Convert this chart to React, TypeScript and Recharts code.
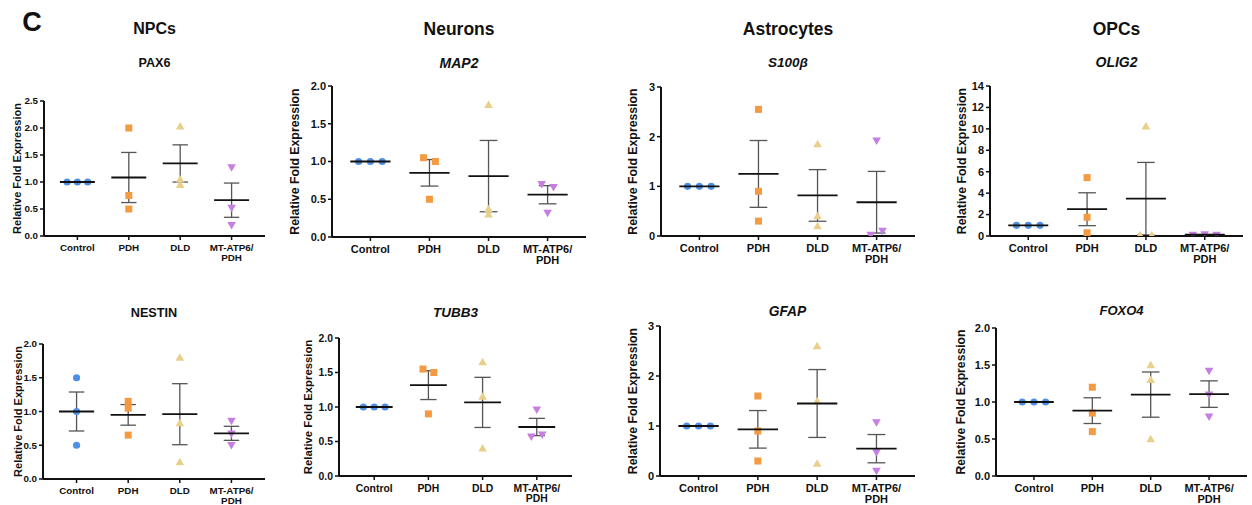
import React from 'react';
import { ScatterChart, Scatter, XAxis, YAxis, ErrorBar } from 'recharts';

const groupNames = ['Control', 'PDH', 'DLD', 'MT-ATP6/\nPDH'];
const groupColors = ['#4f8fe6', '#f39a42', '#e8cf8a', '#c67ee0'];

// replicate values per group: Control, PDH, DLD, MT-ATP6/PDH
const pax6 = [[1, 1, 1], [2.0, 0.75, 0.5], [2.03, 1.05, 0.95], [1.27, 0.52, 0.2]];
const map2 = [[1, 1, 1], [1.05, 1.0, 0.5], [1.75, 0.37, 0.3], [0.7, 0.66, 0.32]];
const s100b = [[1, 1, 1], [2.55, 0.9, 0.3], [1.85, 0.4, 0.2], [1.92, 0.02, 0.1]];
const olig2 = [[1, 1, 1], [5.45, 1.75, 0.3], [10.25, 0.1, 0.1], [0.1, 0.15, 0.1]];
const nestin = [[1.5, 1.0, 0.5], [1.15, 1.05, 0.65], [1.8, 0.83, 0.25], [0.86, 0.67, 0.5]];
const tubb3 = [[1, 1, 1], [1.55, 1.5, 0.9], [1.65, 1.15, 0.4], [0.96, 0.57, 0.6]];
const gfap = [[1, 1, 1], [1.6, 0.9, 0.3], [2.6, 1.5, 0.25], [1.07, 0.47, 0.1]];
const foxo4 = [[1, 1, 1], [1.2, 0.85, 0.6], [1.5, 1.3, 0.5], [1.42, 1.1, 0.8]];

const ticksHalf2 = [0, 0.5, 1, 1.5, 2];
const ticksHalf25 = [0, 0.5, 1, 1.5, 2, 2.5];
const ticksInt3 = [0, 1, 2, 3];
const ticksEven14 = [0, 2, 4, 6, 8, 10, 12, 14];

const cellTypes = ['NPCs', 'Neurons', 'Astrocytes', 'OPCs'];

const panels = [
  { gene: 'PAX6', italic: false, values: pax6, ticks: ticksHalf25, dec: 1 },
  { gene: 'MAP2', italic: true, values: map2, ticks: ticksHalf2, dec: 1 },
  { gene: 'S100β', italic: true, values: s100b, ticks: ticksInt3, dec: 0 },
  { gene: 'OLIG2', italic: true, values: olig2, ticks: ticksEven14, dec: 0 },
  { gene: 'NESTIN', italic: false, values: nestin, ticks: ticksHalf2, dec: 1 },
  { gene: 'TUBB3', italic: true, values: tubb3, ticks: ticksHalf2, dec: 1 },
  { gene: 'GFAP', italic: true, values: gfap, ticks: ticksInt3, dec: 0 },
  { gene: 'FOXO4', italic: true, values: foxo4, ticks: ticksHalf2, dec: 1 },
];

// page geometry of each panel (axis origin, extents, title row, font sizes)
const layouts = [
  { axisX: 44, xRight: 265, top: 101, bottom: 236, labelGap: 27, fs: 9.8, lfs: 11, titleY: 63, tfs: 12.6 },
  { axisX: 332, xRight: 586, top: 86, bottom: 237, labelGap: 37, fs: 11, lfs: 12.3, titleY: 63, tfs: 14 },
  { axisX: 661, xRight: 915, top: 87, bottom: 236, labelGap: 28, fs: 11, lfs: 12.3, titleY: 62, tfs: 13.5 },
  { axisX: 990, xRight: 1243, top: 86, bottom: 236, labelGap: 28, fs: 11, lfs: 12.3, titleY: 62, tfs: 14 },
  { axisX: 43, xRight: 265, top: 344, bottom: 479, labelGap: 25, fs: 9.8, lfs: 11, titleY: 313, tfs: 12.7 },
  { axisX: 339, xRight: 572, top: 338, bottom: 476, labelGap: 31, fs: 10.4, lfs: 11.3, titleY: 312, tfs: 13.5 },
  { axisX: 660, xRight: 915, top: 326, bottom: 476, labelGap: 27, fs: 11, lfs: 12.3, titleY: 311, tfs: 13.8 },
  { axisX: 996, xRight: 1247, top: 328, bottom: 476, labelGap: 35, fs: 11, lfs: 12.2, titleY: 310, tfs: 13 },
];

const FONT = 'Arial, "Liberation Sans", Helvetica, sans-serif';
const X_DOMAIN: [number, number] = [-0.65, 3.65];

function spread(vals: number[], max: number) {
  const off = vals.map(() => 0);
  const used = vals.map(() => false);
  vals.forEach((v, i) => {
    if (used[i]) return;
    const cl = vals.map((_, j) => j).filter((j) => !used[j] && Math.abs(vals[j] - v) < 0.03 * max);
    cl.forEach((j, k) => {
      used[j] = true;
      off[j] = (k - (cl.length - 1) / 2) * 0.2;
    });
  });
  return off;
}

const markerShape = (kind: number, color: string) => (p: any) => {
  const { cx, cy } = p;
  if (cx == null || cy == null) return <g />;
  if (kind === 0) return <circle cx={cx} cy={cy} r={3.6} fill={color} />;
  if (kind === 1) return <rect x={cx - 3.5} y={cy - 3.5} width={7} height={7} fill={color} />;
  if (kind === 2) return <path d={`M${cx},${cy - 4.3}L${cx + 4.3},${cy + 3.2}L${cx - 4.3},${cy + 3.2}Z`} fill={color} />;
  return <path d={`M${cx},${cy + 4.3}L${cx + 4.3},${cy - 3.2}L${cx - 4.3},${cy - 3.2}Z`} fill={color} />;
};

function CatTick(props: any) {
  const { x, y, payload, fs } = props;
  const lines = (groupNames[payload.value] || '').split('\n');
  return (
    <text x={x} y={y} textAnchor="middle" fontSize={fs} fontWeight={700} fontFamily={FONT} fill="#111">
      {lines.map((l: string, i: number) => (
        <tspan key={i} x={x} dy={i === 0 ? fs * 0.95 : fs * 1.0}>{l}</tspan>
      ))}
    </text>
  );
}

function Panel({ idx }: { idx: number }) {
  const pd = panels[idx];
  const lo = layouts[idx];
  const yMax = pd.ticks[pd.ticks.length - 1];
  const yAxisW = 46;
  const mTop = 6;
  const xAxisH = 36;
  const chartLeft = lo.axisX - yAxisW;
  const width = lo.xRight + 6 - chartLeft;
  const height = lo.bottom - lo.top + mTop + xAxisH;
  const spacing = (lo.xRight - lo.axisX) / (X_DOMAIN[1] - X_DOMAIN[0]);

  const means = pd.values.map((vals, g) => {
    const m = vals.reduce((a, b) => a + b, 0) / vals.length;
    const sd = Math.sqrt(vals.reduce((a, b) => a + (b - m) * (b - m), 0) / (vals.length - 1));
    return { x: g, y: m, sem: sd / Math.sqrt(vals.length) };
  });

  const meanHw = spacing * 0.34;
  const meanShape = (p: any) => {
    const { cx, cy } = p;
    if (cx == null || cy == null) return <g />;
    return <line x1={cx - meanHw} x2={cx + meanHw} y1={cy} y2={cy} stroke="#111" strokeWidth={1.8} />;
  };

  return (
    <div style={{ position: 'absolute', left: chartLeft, top: lo.top - mTop }}>
      <ScatterChart width={width} height={height} margin={{ top: mTop, right: 6, bottom: 0, left: 0 }}>
        <XAxis
          type="number"
          dataKey="x"
          domain={X_DOMAIN}
          ticks={[0, 1, 2, 3]}
          allowDataOverflow
          height={xAxisH}
          tickSize={4}
          tickMargin={2}
          axisLine={{ stroke: '#111', strokeWidth: 2 }}
          tickLine={{ stroke: '#111', strokeWidth: 1.5 }}
          tick={<CatTick fs={lo.fs} />}
        />
        <YAxis
          type="number"
          dataKey="y"
          domain={[0, yMax]}
          ticks={pd.ticks}
          allowDataOverflow
          width={yAxisW}
          tickSize={4}
          tickMargin={2}
          axisLine={{ stroke: '#111', strokeWidth: 2 }}
          tickLine={{ stroke: '#111', strokeWidth: 1.5 }}
          tickFormatter={(v: number) => v.toFixed(pd.dec)}
          tick={{ fontSize: lo.fs, fontWeight: 700, fill: '#111', fontFamily: FONT }}
          label={{
            value: 'Relative Fold Expression',
            angle: -90,
            position: 'insideLeft',
            offset: yAxisW - lo.labelGap,
            style: { textAnchor: 'middle', fontSize: lo.lfs, fontWeight: 700, fill: '#111', fontFamily: FONT },
          }}
        />
        {pd.values.map((vals, g) => {
          const off = spread(vals, yMax);
          const pts = vals.map((v, k) => ({ x: g + off[k], y: v }));
          return (
            <Scatter
              key={g}
              data={pts}
              shape={markerShape(g, groupColors[g])}
              isAnimationActive={false}
            />
          );
        })}
        <Scatter data={means} shape={meanShape} isAnimationActive={false}>
          <ErrorBar
            dataKey="sem"
            direction="y"
            width={spacing * 0.15}
            stroke="#555"
            strokeWidth={1.3}
            isAnimationActive={false}
          />
        </Scatter>
      </ScatterChart>
    </div>
  );
}

export default function App() {
  return (
    <div
      style={{
        position: 'relative',
        width: 1252,
        height: 505,
        overflow: 'hidden',
        background: '#fff',
        fontFamily: FONT,
        color: '#111',
      }}
    >
      <style>{'body{margin:0}'}</style>
      <div
        style={{
          position: 'absolute',
          left: 32,
          top: 22,
          transform: 'translate(-50%, -50%)',
          fontSize: 27,
          fontWeight: 700,
          lineHeight: 1,
        }}
      >
        C
      </div>
      {cellTypes.map((c, i) => {
        const lo = layouts[i];
        return (
          <div
            key={c}
            style={{
              position: 'absolute',
              left: (lo.axisX + lo.xRight) / 2,
              top: 29,
              transform: 'translate(-50%, -50%)',
              fontSize: i === 0 ? 16 : 17.5,
              fontWeight: 700,
              whiteSpace: 'nowrap',
            }}
          >
            {c}
          </div>
        );
      })}
      {panels.map((p, i) => {
        const lo = layouts[i];
        return (
          <div
            key={p.gene}
            style={{
              position: 'absolute',
              left: (lo.axisX + lo.xRight) / 2,
              top: lo.titleY,
              transform: 'translate(-50%, -50%)',
              fontSize: lo.tfs,
              fontWeight: 700,
              fontStyle: p.italic ? 'italic' : 'normal',
              whiteSpace: 'nowrap',
            }}
          >
            {p.gene}
          </div>
        );
      })}
      {panels.map((p, i) => (
        <Panel key={p.gene} idx={i} />
      ))}
    </div>
  );
}
